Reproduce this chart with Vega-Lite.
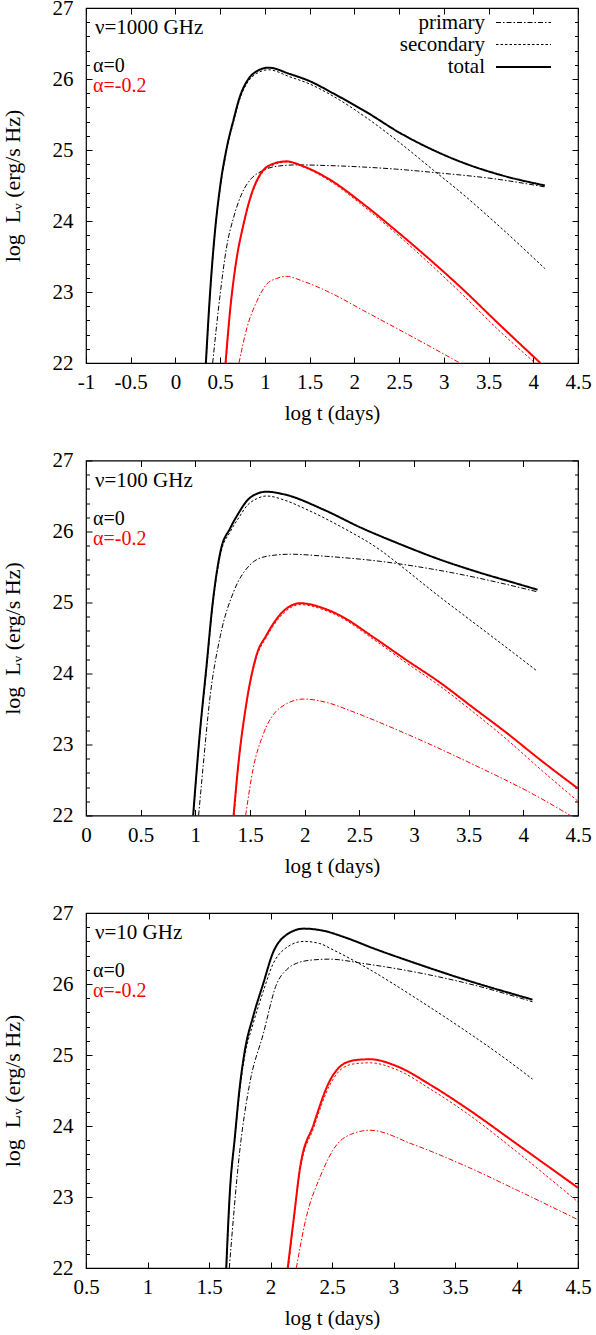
{
  "$schema": "https://vega.github.io/schema/vega-lite/v6.json",
  "background": "white",
  "padding": {"left": 0, "top": -4, "right": 0, "bottom": 0},
  "bounds": "flush",
  "spacing": 97.5,
  "config": {
    "font": "Liberation Serif",
    "view": {"stroke": "black", "strokeWidth": 1.2},
    "axis": {"domain": false, "grid": false, "labelFont": "Liberation Serif", "labelFontSize": 21, "labelColor": "black", "titleFont": "Liberation Serif", "titleFontSize": 21, "titleFontWeight": "normal", "titleColor": "black", "tickColor": "black", "tickWidth": 1, "labelFlush": false, "labelOverlap": false, "labelBound": false},
    "legend": {"labelFont": "Liberation Serif", "labelFontSize": 21, "labelColor": "black", "titleFont": "Liberation Serif", "titleFontSize": 21, "titleFontWeight": "normal", "titleColor": "black", "padding": 0}
  },
  "datasets": {
    "curves": [
      {"nu":"1000","alpha":"α=0","comp":"total","t":0.34,"L":22.0},
      {"nu":"1000","alpha":"α=0","comp":"total","t":0.386,"L":22.97},
      {"nu":"1000","alpha":"α=0","comp":"total","t":0.44,"L":23.83},
      {"nu":"1000","alpha":"α=0","comp":"total","t":0.5,"L":24.49},
      {"nu":"1000","alpha":"α=0","comp":"total","t":0.57,"L":25.01},
      {"nu":"1000","alpha":"α=0","comp":"total","t":0.65,"L":25.43},
      {"nu":"1000","alpha":"α=0","comp":"total","t":0.72,"L":25.75},
      {"nu":"1000","alpha":"α=0","comp":"total","t":0.81,"L":25.99},
      {"nu":"1000","alpha":"α=0","comp":"total","t":0.91,"L":26.11},
      {"nu":"1000","alpha":"α=0","comp":"total","t":1.04,"L":26.16},
      {"nu":"1000","alpha":"α=0","comp":"total","t":1.28,"L":26.07},
      {"nu":"1000","alpha":"α=0","comp":"total","t":1.5,"L":25.97},
      {"nu":"1000","alpha":"α=0","comp":"total","t":1.76,"L":25.8},
      {"nu":"1000","alpha":"α=0","comp":"total","t":2.14,"L":25.53},
      {"nu":"1000","alpha":"α=0","comp":"total","t":2.51,"L":25.24},
      {"nu":"1000","alpha":"α=0","comp":"total","t":2.88,"L":25.0},
      {"nu":"1000","alpha":"α=0","comp":"total","t":3.26,"L":24.8},
      {"nu":"1000","alpha":"α=0","comp":"total","t":3.63,"L":24.65},
      {"nu":"1000","alpha":"α=0","comp":"total","t":4.13,"L":24.5},
      {"nu":"1000","alpha":"α=0","comp":"secondary","t":0.342,"L":22.0},
      {"nu":"1000","alpha":"α=0","comp":"secondary","t":0.386,"L":22.95},
      {"nu":"1000","alpha":"α=0","comp":"secondary","t":0.44,"L":23.81},
      {"nu":"1000","alpha":"α=0","comp":"secondary","t":0.5,"L":24.46},
      {"nu":"1000","alpha":"α=0","comp":"secondary","t":0.57,"L":24.98},
      {"nu":"1000","alpha":"α=0","comp":"secondary","t":0.65,"L":25.4},
      {"nu":"1000","alpha":"α=0","comp":"secondary","t":0.72,"L":25.72},
      {"nu":"1000","alpha":"α=0","comp":"secondary","t":0.81,"L":25.96},
      {"nu":"1000","alpha":"α=0","comp":"secondary","t":0.91,"L":26.08},
      {"nu":"1000","alpha":"α=0","comp":"secondary","t":1.04,"L":26.13},
      {"nu":"1000","alpha":"α=0","comp":"secondary","t":1.28,"L":26.03},
      {"nu":"1000","alpha":"α=0","comp":"secondary","t":1.5,"L":25.93},
      {"nu":"1000","alpha":"α=0","comp":"secondary","t":1.76,"L":25.76},
      {"nu":"1000","alpha":"α=0","comp":"secondary","t":2.14,"L":25.45},
      {"nu":"1000","alpha":"α=0","comp":"secondary","t":2.51,"L":25.1},
      {"nu":"1000","alpha":"α=0","comp":"secondary","t":2.88,"L":24.72},
      {"nu":"1000","alpha":"α=0","comp":"secondary","t":3.22,"L":24.37},
      {"nu":"1000","alpha":"α=0","comp":"secondary","t":3.59,"L":23.96},
      {"nu":"1000","alpha":"α=0","comp":"secondary","t":4.13,"L":23.33},
      {"nu":"1000","alpha":"α=0","comp":"primary","t":0.416,"L":22.0},
      {"nu":"1000","alpha":"α=0","comp":"primary","t":0.5,"L":22.97},
      {"nu":"1000","alpha":"α=0","comp":"primary","t":0.57,"L":23.62},
      {"nu":"1000","alpha":"α=0","comp":"primary","t":0.65,"L":24.05},
      {"nu":"1000","alpha":"α=0","comp":"primary","t":0.74,"L":24.38},
      {"nu":"1000","alpha":"α=0","comp":"primary","t":0.85,"L":24.6},
      {"nu":"1000","alpha":"α=0","comp":"primary","t":0.96,"L":24.7},
      {"nu":"1000","alpha":"α=0","comp":"primary","t":1.13,"L":24.77},
      {"nu":"1000","alpha":"α=0","comp":"primary","t":1.36,"L":24.79},
      {"nu":"1000","alpha":"α=0","comp":"primary","t":1.73,"L":24.78},
      {"nu":"1000","alpha":"α=0","comp":"primary","t":2.47,"L":24.73},
      {"nu":"1000","alpha":"α=0","comp":"primary","t":2.92,"L":24.68},
      {"nu":"1000","alpha":"α=0","comp":"primary","t":3.59,"L":24.59},
      {"nu":"1000","alpha":"α=0","comp":"primary","t":4.13,"L":24.48},
      {"nu":"1000","alpha":"α=-0.2","comp":"total","t":0.56,"L":22.0},
      {"nu":"1000","alpha":"α=-0.2","comp":"total","t":0.61,"L":22.73},
      {"nu":"1000","alpha":"α=-0.2","comp":"total","t":0.68,"L":23.44},
      {"nu":"1000","alpha":"α=-0.2","comp":"total","t":0.76,"L":23.95},
      {"nu":"1000","alpha":"α=-0.2","comp":"total","t":0.85,"L":24.38},
      {"nu":"1000","alpha":"α=-0.2","comp":"total","t":0.96,"L":24.68},
      {"nu":"1000","alpha":"α=-0.2","comp":"total","t":1.08,"L":24.8},
      {"nu":"1000","alpha":"α=-0.2","comp":"total","t":1.24,"L":24.84},
      {"nu":"1000","alpha":"α=-0.2","comp":"total","t":1.43,"L":24.77},
      {"nu":"1000","alpha":"α=-0.2","comp":"total","t":1.73,"L":24.58},
      {"nu":"1000","alpha":"α=-0.2","comp":"total","t":2.1,"L":24.24},
      {"nu":"1000","alpha":"α=-0.2","comp":"total","t":2.47,"L":23.86},
      {"nu":"1000","alpha":"α=-0.2","comp":"total","t":2.85,"L":23.45},
      {"nu":"1000","alpha":"α=-0.2","comp":"total","t":3.22,"L":23.03},
      {"nu":"1000","alpha":"α=-0.2","comp":"total","t":3.59,"L":22.58},
      {"nu":"1000","alpha":"α=-0.2","comp":"total","t":4.08,"L":22.0},
      {"nu":"1000","alpha":"α=-0.2","comp":"secondary","t":0.565,"L":22.0},
      {"nu":"1000","alpha":"α=-0.2","comp":"secondary","t":0.61,"L":22.72},
      {"nu":"1000","alpha":"α=-0.2","comp":"secondary","t":0.68,"L":23.43},
      {"nu":"1000","alpha":"α=-0.2","comp":"secondary","t":0.76,"L":23.94},
      {"nu":"1000","alpha":"α=-0.2","comp":"secondary","t":0.85,"L":24.36},
      {"nu":"1000","alpha":"α=-0.2","comp":"secondary","t":0.96,"L":24.66},
      {"nu":"1000","alpha":"α=-0.2","comp":"secondary","t":1.08,"L":24.78},
      {"nu":"1000","alpha":"α=-0.2","comp":"secondary","t":1.24,"L":24.83},
      {"nu":"1000","alpha":"α=-0.2","comp":"secondary","t":1.43,"L":24.76},
      {"nu":"1000","alpha":"α=-0.2","comp":"secondary","t":1.73,"L":24.56},
      {"nu":"1000","alpha":"α=-0.2","comp":"secondary","t":2.1,"L":24.21},
      {"nu":"1000","alpha":"α=-0.2","comp":"secondary","t":2.47,"L":23.82},
      {"nu":"1000","alpha":"α=-0.2","comp":"secondary","t":2.85,"L":23.39},
      {"nu":"1000","alpha":"α=-0.2","comp":"secondary","t":3.22,"L":22.95},
      {"nu":"1000","alpha":"α=-0.2","comp":"secondary","t":3.59,"L":22.49},
      {"nu":"1000","alpha":"α=-0.2","comp":"secondary","t":4.02,"L":22.0},
      {"nu":"1000","alpha":"α=-0.2","comp":"primary","t":0.71,"L":22.0},
      {"nu":"1000","alpha":"α=-0.2","comp":"primary","t":0.8,"L":22.5},
      {"nu":"1000","alpha":"α=-0.2","comp":"primary","t":0.91,"L":22.87},
      {"nu":"1000","alpha":"α=-0.2","comp":"primary","t":1.02,"L":23.11},
      {"nu":"1000","alpha":"α=-0.2","comp":"primary","t":1.13,"L":23.19},
      {"nu":"1000","alpha":"α=-0.2","comp":"primary","t":1.24,"L":23.22},
      {"nu":"1000","alpha":"α=-0.2","comp":"primary","t":1.43,"L":23.15},
      {"nu":"1000","alpha":"α=-0.2","comp":"primary","t":1.73,"L":22.99},
      {"nu":"1000","alpha":"α=-0.2","comp":"primary","t":2.1,"L":22.74},
      {"nu":"1000","alpha":"α=-0.2","comp":"primary","t":2.47,"L":22.49},
      {"nu":"1000","alpha":"α=-0.2","comp":"primary","t":2.85,"L":22.23},
      {"nu":"1000","alpha":"α=-0.2","comp":"primary","t":3.18,"L":22.0},

      {"nu":"100","alpha":"α=0","comp":"total","t":0.98,"L":22.0},
      {"nu":"100","alpha":"α=0","comp":"total","t":1.04,"L":23.14},
      {"nu":"100","alpha":"α=0","comp":"total","t":1.1,"L":24.07},
      {"nu":"100","alpha":"α=0","comp":"total","t":1.16,"L":25.01},
      {"nu":"100","alpha":"α=0","comp":"total","t":1.23,"L":25.72},
      {"nu":"100","alpha":"α=0","comp":"total","t":1.32,"L":26.05},
      {"nu":"100","alpha":"α=0","comp":"total","t":1.4,"L":26.27},
      {"nu":"100","alpha":"α=0","comp":"total","t":1.47,"L":26.43},
      {"nu":"100","alpha":"α=0","comp":"total","t":1.56,"L":26.53},
      {"nu":"100","alpha":"α=0","comp":"total","t":1.65,"L":26.56},
      {"nu":"100","alpha":"α=0","comp":"total","t":1.82,"L":26.52},
      {"nu":"100","alpha":"α=0","comp":"total","t":2.17,"L":26.31},
      {"nu":"100","alpha":"α=0","comp":"total","t":2.52,"L":26.05},
      {"nu":"100","alpha":"α=0","comp":"total","t":2.86,"L":25.83},
      {"nu":"100","alpha":"α=0","comp":"total","t":3.21,"L":25.62},
      {"nu":"100","alpha":"α=0","comp":"total","t":3.56,"L":25.44},
      {"nu":"100","alpha":"α=0","comp":"total","t":3.91,"L":25.28},
      {"nu":"100","alpha":"α=0","comp":"total","t":4.13,"L":25.18},
      {"nu":"100","alpha":"α=0","comp":"secondary","t":0.982,"L":22.0},
      {"nu":"100","alpha":"α=0","comp":"secondary","t":1.04,"L":23.12},
      {"nu":"100","alpha":"α=0","comp":"secondary","t":1.1,"L":24.02},
      {"nu":"100","alpha":"α=0","comp":"secondary","t":1.16,"L":24.97},
      {"nu":"100","alpha":"α=0","comp":"secondary","t":1.23,"L":25.68},
      {"nu":"100","alpha":"α=0","comp":"secondary","t":1.32,"L":26.0},
      {"nu":"100","alpha":"α=0","comp":"secondary","t":1.4,"L":26.2},
      {"nu":"100","alpha":"α=0","comp":"secondary","t":1.47,"L":26.36},
      {"nu":"100","alpha":"α=0","comp":"secondary","t":1.56,"L":26.46},
      {"nu":"100","alpha":"α=0","comp":"secondary","t":1.65,"L":26.5},
      {"nu":"100","alpha":"α=0","comp":"secondary","t":1.82,"L":26.44},
      {"nu":"100","alpha":"α=0","comp":"secondary","t":1.99,"L":26.33},
      {"nu":"100","alpha":"α=0","comp":"secondary","t":2.34,"L":26.06},
      {"nu":"100","alpha":"α=0","comp":"secondary","t":2.69,"L":25.74},
      {"nu":"100","alpha":"α=0","comp":"secondary","t":2.86,"L":25.54},
      {"nu":"100","alpha":"α=0","comp":"secondary","t":3.21,"L":25.11},
      {"nu":"100","alpha":"α=0","comp":"secondary","t":3.56,"L":24.7},
      {"nu":"100","alpha":"α=0","comp":"secondary","t":3.91,"L":24.29},
      {"nu":"100","alpha":"α=0","comp":"secondary","t":4.13,"L":24.03},
      {"nu":"100","alpha":"α=0","comp":"primary","t":1.03,"L":22.0},
      {"nu":"100","alpha":"α=0","comp":"primary","t":1.07,"L":22.67},
      {"nu":"100","alpha":"α=0","comp":"primary","t":1.13,"L":23.61},
      {"nu":"100","alpha":"α=0","comp":"primary","t":1.23,"L":24.54},
      {"nu":"100","alpha":"α=0","comp":"primary","t":1.35,"L":25.15},
      {"nu":"100","alpha":"α=0","comp":"primary","t":1.5,"L":25.53},
      {"nu":"100","alpha":"α=0","comp":"primary","t":1.65,"L":25.65},
      {"nu":"100","alpha":"α=0","comp":"primary","t":1.87,"L":25.68},
      {"nu":"100","alpha":"α=0","comp":"primary","t":2.2,"L":25.65},
      {"nu":"100","alpha":"α=0","comp":"primary","t":2.69,"L":25.58},
      {"nu":"100","alpha":"α=0","comp":"primary","t":3.38,"L":25.41},
      {"nu":"100","alpha":"α=0","comp":"primary","t":4.13,"L":25.15},
      {"nu":"100","alpha":"α=-0.2","comp":"total","t":1.35,"L":22.0},
      {"nu":"100","alpha":"α=-0.2","comp":"total","t":1.39,"L":22.67},
      {"nu":"100","alpha":"α=-0.2","comp":"total","t":1.47,"L":23.61},
      {"nu":"100","alpha":"α=-0.2","comp":"total","t":1.56,"L":24.26},
      {"nu":"100","alpha":"α=-0.2","comp":"total","t":1.65,"L":24.54},
      {"nu":"100","alpha":"α=-0.2","comp":"total","t":1.8,"L":24.87},
      {"nu":"100","alpha":"α=-0.2","comp":"total","t":1.96,"L":24.99},
      {"nu":"100","alpha":"α=-0.2","comp":"total","t":2.17,"L":24.92},
      {"nu":"100","alpha":"α=-0.2","comp":"total","t":2.32,"L":24.82},
      {"nu":"100","alpha":"α=-0.2","comp":"total","t":2.63,"L":24.51},
      {"nu":"100","alpha":"α=-0.2","comp":"total","t":2.93,"L":24.19},
      {"nu":"100","alpha":"α=-0.2","comp":"total","t":3.24,"L":23.87},
      {"nu":"100","alpha":"α=-0.2","comp":"total","t":3.54,"L":23.52},
      {"nu":"100","alpha":"α=-0.2","comp":"total","t":3.85,"L":23.16},
      {"nu":"100","alpha":"α=-0.2","comp":"total","t":4.15,"L":22.79},
      {"nu":"100","alpha":"α=-0.2","comp":"total","t":4.5,"L":22.38},
      {"nu":"100","alpha":"α=-0.2","comp":"secondary","t":1.355,"L":22.0},
      {"nu":"100","alpha":"α=-0.2","comp":"secondary","t":1.39,"L":22.65},
      {"nu":"100","alpha":"α=-0.2","comp":"secondary","t":1.47,"L":23.59},
      {"nu":"100","alpha":"α=-0.2","comp":"secondary","t":1.56,"L":24.23},
      {"nu":"100","alpha":"α=-0.2","comp":"secondary","t":1.65,"L":24.51},
      {"nu":"100","alpha":"α=-0.2","comp":"secondary","t":1.8,"L":24.84},
      {"nu":"100","alpha":"α=-0.2","comp":"secondary","t":1.96,"L":24.97},
      {"nu":"100","alpha":"α=-0.2","comp":"secondary","t":2.17,"L":24.9},
      {"nu":"100","alpha":"α=-0.2","comp":"secondary","t":2.32,"L":24.8},
      {"nu":"100","alpha":"α=-0.2","comp":"secondary","t":2.63,"L":24.48},
      {"nu":"100","alpha":"α=-0.2","comp":"secondary","t":2.93,"L":24.15},
      {"nu":"100","alpha":"α=-0.2","comp":"secondary","t":3.24,"L":23.82},
      {"nu":"100","alpha":"α=-0.2","comp":"secondary","t":3.54,"L":23.46},
      {"nu":"100","alpha":"α=-0.2","comp":"secondary","t":3.85,"L":23.07},
      {"nu":"100","alpha":"α=-0.2","comp":"secondary","t":4.15,"L":22.66},
      {"nu":"100","alpha":"α=-0.2","comp":"secondary","t":4.5,"L":22.2},
      {"nu":"100","alpha":"α=-0.2","comp":"primary","t":1.46,"L":22.0},
      {"nu":"100","alpha":"α=-0.2","comp":"primary","t":1.53,"L":22.67},
      {"nu":"100","alpha":"α=-0.2","comp":"primary","t":1.62,"L":23.14},
      {"nu":"100","alpha":"α=-0.2","comp":"primary","t":1.77,"L":23.51},
      {"nu":"100","alpha":"α=-0.2","comp":"primary","t":1.99,"L":23.64},
      {"nu":"100","alpha":"α=-0.2","comp":"primary","t":2.23,"L":23.58},
      {"nu":"100","alpha":"α=-0.2","comp":"primary","t":2.41,"L":23.48},
      {"nu":"100","alpha":"α=-0.2","comp":"primary","t":2.93,"L":23.15},
      {"nu":"100","alpha":"α=-0.2","comp":"primary","t":3.54,"L":22.72},
      {"nu":"100","alpha":"α=-0.2","comp":"primary","t":4.15,"L":22.25},
      {"nu":"100","alpha":"α=-0.2","comp":"primary","t":4.43,"L":22.0},

      {"nu":"10","alpha":"α=0","comp":"total","t":1.64,"L":22.0},
      {"nu":"10","alpha":"α=0","comp":"total","t":1.67,"L":23.08},
      {"nu":"10","alpha":"α=0","comp":"total","t":1.71,"L":23.84},
      {"nu":"10","alpha":"α=0","comp":"total","t":1.75,"L":24.55},
      {"nu":"10","alpha":"α=0","comp":"total","t":1.79,"L":25.05},
      {"nu":"10","alpha":"α=0","comp":"total","t":1.86,"L":25.55},
      {"nu":"10","alpha":"α=0","comp":"total","t":1.94,"L":26.0},
      {"nu":"10","alpha":"α=0","comp":"total","t":2.02,"L":26.44},
      {"nu":"10","alpha":"α=0","comp":"total","t":2.12,"L":26.68},
      {"nu":"10","alpha":"α=0","comp":"total","t":2.27,"L":26.78},
      {"nu":"10","alpha":"α=0","comp":"total","t":2.43,"L":26.75},
      {"nu":"10","alpha":"α=0","comp":"total","t":2.6,"L":26.66},
      {"nu":"10","alpha":"α=0","comp":"total","t":2.84,"L":26.5},
      {"nu":"10","alpha":"α=0","comp":"total","t":3.2,"L":26.28},
      {"nu":"10","alpha":"α=0","comp":"total","t":3.62,"L":26.04},
      {"nu":"10","alpha":"α=0","comp":"total","t":3.97,"L":25.86},
      {"nu":"10","alpha":"α=0","comp":"total","t":4.13,"L":25.78},
      {"nu":"10","alpha":"α=0","comp":"secondary","t":1.642,"L":22.0},
      {"nu":"10","alpha":"α=0","comp":"secondary","t":1.67,"L":23.06},
      {"nu":"10","alpha":"α=0","comp":"secondary","t":1.71,"L":23.81},
      {"nu":"10","alpha":"α=0","comp":"secondary","t":1.75,"L":24.5},
      {"nu":"10","alpha":"α=0","comp":"secondary","t":1.79,"L":24.98},
      {"nu":"10","alpha":"α=0","comp":"secondary","t":1.86,"L":25.45},
      {"nu":"10","alpha":"α=0","comp":"secondary","t":1.94,"L":25.89},
      {"nu":"10","alpha":"α=0","comp":"secondary","t":2.02,"L":26.28},
      {"nu":"10","alpha":"α=0","comp":"secondary","t":2.12,"L":26.5},
      {"nu":"10","alpha":"α=0","comp":"secondary","t":2.27,"L":26.6},
      {"nu":"10","alpha":"α=0","comp":"secondary","t":2.4,"L":26.57},
      {"nu":"10","alpha":"α=0","comp":"secondary","t":2.51,"L":26.48},
      {"nu":"10","alpha":"α=0","comp":"secondary","t":2.75,"L":26.26},
      {"nu":"10","alpha":"α=0","comp":"secondary","t":3.2,"L":25.78},
      {"nu":"10","alpha":"α=0","comp":"secondary","t":3.62,"L":25.3},
      {"nu":"10","alpha":"α=0","comp":"secondary","t":3.9,"L":24.96},
      {"nu":"10","alpha":"α=0","comp":"secondary","t":4.13,"L":24.66},
      {"nu":"10","alpha":"α=0","comp":"primary","t":1.665,"L":22.0},
      {"nu":"10","alpha":"α=0","comp":"primary","t":1.75,"L":23.65},
      {"nu":"10","alpha":"α=0","comp":"primary","t":1.83,"L":24.59},
      {"nu":"10","alpha":"α=0","comp":"primary","t":1.94,"L":25.29},
      {"nu":"10","alpha":"α=0","comp":"primary","t":2.05,"L":26.0},
      {"nu":"10","alpha":"α=0","comp":"primary","t":2.13,"L":26.2},
      {"nu":"10","alpha":"α=0","comp":"primary","t":2.21,"L":26.29},
      {"nu":"10","alpha":"α=0","comp":"primary","t":2.35,"L":26.34},
      {"nu":"10","alpha":"α=0","comp":"primary","t":2.48,"L":26.35},
      {"nu":"10","alpha":"α=0","comp":"primary","t":2.75,"L":26.29},
      {"nu":"10","alpha":"α=0","comp":"primary","t":3.2,"L":26.16},
      {"nu":"10","alpha":"α=0","comp":"primary","t":3.62,"L":26.0},
      {"nu":"10","alpha":"α=0","comp":"primary","t":4.13,"L":25.75},
      {"nu":"10","alpha":"α=-0.2","comp":"total","t":2.14,"L":22.0},
      {"nu":"10","alpha":"α=-0.2","comp":"total","t":2.19,"L":22.71},
      {"nu":"10","alpha":"α=-0.2","comp":"total","t":2.24,"L":23.41},
      {"nu":"10","alpha":"α=-0.2","comp":"total","t":2.35,"L":24.02},
      {"nu":"10","alpha":"α=-0.2","comp":"total","t":2.48,"L":24.63},
      {"nu":"10","alpha":"α=-0.2","comp":"total","t":2.59,"L":24.87},
      {"nu":"10","alpha":"α=-0.2","comp":"total","t":2.7,"L":24.93},
      {"nu":"10","alpha":"α=-0.2","comp":"total","t":2.81,"L":24.94},
      {"nu":"10","alpha":"α=-0.2","comp":"total","t":3.03,"L":24.84},
      {"nu":"10","alpha":"α=-0.2","comp":"total","t":3.3,"L":24.58},
      {"nu":"10","alpha":"α=-0.2","comp":"total","t":3.62,"L":24.22},
      {"nu":"10","alpha":"α=-0.2","comp":"total","t":4.0,"L":23.75},
      {"nu":"10","alpha":"α=-0.2","comp":"total","t":4.5,"L":23.13},
      {"nu":"10","alpha":"α=-0.2","comp":"secondary","t":2.145,"L":22.0},
      {"nu":"10","alpha":"α=-0.2","comp":"secondary","t":2.19,"L":22.68},
      {"nu":"10","alpha":"α=-0.2","comp":"secondary","t":2.24,"L":23.37},
      {"nu":"10","alpha":"α=-0.2","comp":"secondary","t":2.35,"L":23.97},
      {"nu":"10","alpha":"α=-0.2","comp":"secondary","t":2.48,"L":24.57},
      {"nu":"10","alpha":"α=-0.2","comp":"secondary","t":2.59,"L":24.82},
      {"nu":"10","alpha":"α=-0.2","comp":"secondary","t":2.7,"L":24.88},
      {"nu":"10","alpha":"α=-0.2","comp":"secondary","t":2.81,"L":24.89},
      {"nu":"10","alpha":"α=-0.2","comp":"secondary","t":3.03,"L":24.79},
      {"nu":"10","alpha":"α=-0.2","comp":"secondary","t":3.3,"L":24.52},
      {"nu":"10","alpha":"α=-0.2","comp":"secondary","t":3.62,"L":24.15},
      {"nu":"10","alpha":"α=-0.2","comp":"secondary","t":4.0,"L":23.64},
      {"nu":"10","alpha":"α=-0.2","comp":"secondary","t":4.5,"L":22.93},
      {"nu":"10","alpha":"α=-0.2","comp":"primary","t":2.21,"L":22.0},
      {"nu":"10","alpha":"α=-0.2","comp":"primary","t":2.29,"L":22.71},
      {"nu":"10","alpha":"α=-0.2","comp":"primary","t":2.4,"L":23.27},
      {"nu":"10","alpha":"α=-0.2","comp":"primary","t":2.54,"L":23.74},
      {"nu":"10","alpha":"α=-0.2","comp":"primary","t":2.65,"L":23.88},
      {"nu":"10","alpha":"α=-0.2","comp":"primary","t":2.81,"L":23.94},
      {"nu":"10","alpha":"α=-0.2","comp":"primary","t":3.16,"L":23.74},
      {"nu":"10","alpha":"α=-0.2","comp":"primary","t":3.62,"L":23.41},
      {"nu":"10","alpha":"α=-0.2","comp":"primary","t":4.0,"L":23.1},
      {"nu":"10","alpha":"α=-0.2","comp":"primary","t":4.5,"L":22.68}
    ]
  },
  "data": {"name": "curves"},
  "resolve": {
    "scale": {"x": "independent", "y": "independent"},
    "legend": {"color": "independent", "strokeDash": "independent", "strokeWidth": "independent"}
  },
  "vconcat": [
    {
      "width": 492, "height": 355,
      "transform": [{"filter": "datum.nu == '1000'"}],
      "layer": [
        {
          "mark": {"type": "line", "clip": true, "interpolate": "monotone", "strokeCap": "butt"},
          "encoding": {
            "x": {"field": "t", "type": "quantitative", "scale": {"domain": [-1, 4.5], "nice": false, "zero": false},
              "axis": {"values": [-1,-0.5,0,0.5,1,1.5,2,2.5,3,3.5,4,4.5], "labelExpr": "'' + datum.value", "tickSize": -6, "labelPadding": 14.5, "title": "log t (days)", "titlePadding": 10}},
            "y": {"field": "L", "type": "quantitative", "scale": {"domain": [22, 27], "nice": false, "zero": false},
              "axis": {"values": [22,22.2,22.4,22.6,22.8,23,23.2,23.4,23.6,23.8,24,24.2,24.4,24.6,24.8,25,25.2,25.4,25.6,25.8,26,26.2,26.4,26.6,26.8,27], "labelExpr": "datum.value % 1 == 0 ? '' + datum.value : ''", "tickSize": {"condition": {"test": "datum.value % 1 == 0", "value": -6}, "value": -3.5}, "labelPadding": 19, "title": "log\u00a0\u00a0Lᵥ (erg/s Hz)", "titleFontSize": 22, "titlePadding": 28}},
            "color": {"field": "alpha", "type": "nominal", "scale": {"domain": ["α=0", "α=-0.2"], "range": ["#000000", "#ff0000"]},
              "legend": {"orient": "none", "legendX": 9, "legendY": 9, "title": "ν=1000 GHz", "titlePadding": 18, "symbolOpacity": 0, "symbolSize": 1, "labelOffset": -22, "labelFontSize": 20, "rowPadding": -4, "labelColor": {"expr": "datum.label == 'α=0' ? '#000000' : '#ff0000'"}}},
            "strokeDash": {"field": "comp", "type": "nominal", "scale": {"domain": ["primary", "secondary", "total"], "range": [[5,2,1.5,2],[2.5,2],[1,0]]},
              "legend": {"orient": "none", "legendX": 425.5, "legendY": 3, "title": null, "symbolType": "M-2.5,0H2.5", "symbolSize": 484, "symbolStrokeColor": "black", "labelAlign": "right", "labelOffset": -50.5, "rowPadding": 0}},
            "strokeWidth": {"field": "comp", "type": "nominal", "scale": {"type": "ordinal", "domain": ["primary", "secondary", "total"], "range": [1, 1, 2]},
              "legend": {"orient": "none", "legendX": 425.5, "legendY": 3, "title": null, "symbolType": "M-2.5,0H2.5", "symbolSize": 484, "symbolStrokeColor": "black", "labelAlign": "right", "labelOffset": -50.5, "rowPadding": 0}}
          }
        },
        {
          "mark": {"type": "point", "opacity": 0},
          "encoding": {
            "x": {"field": "t", "type": "quantitative", "axis": {"orient": "top", "values": [-1,-0.5,0,0.5,1,1.5,2,2.5,3,3.5,4,4.5], "labels": false, "tickSize": -6, "title": null}},
            "y": {"field": "L", "type": "quantitative", "axis": {"orient": "right", "values": [22,22.2,22.4,22.6,22.8,23,23.2,23.4,23.6,23.8,24,24.2,24.4,24.6,24.8,25,25.2,25.4,25.6,25.8,26,26.2,26.4,26.6,26.8,27], "labels": false, "tickSize": {"condition": {"test": "datum.value % 1 == 0", "value": -6}, "value": -3.5}, "title": null}}
          }
        }
      ],
      "resolve": {"axis": {"x": "independent", "y": "independent"}}
    },
    {
      "width": 492, "height": 355,
      "transform": [{"filter": "datum.nu == '100'"}],
      "layer": [
        {
          "mark": {"type": "line", "clip": true, "interpolate": "monotone", "strokeCap": "butt"},
          "encoding": {
            "x": {"field": "t", "type": "quantitative", "scale": {"domain": [0, 4.5], "nice": false, "zero": false},
              "axis": {"values": [0,0.5,1,1.5,2,2.5,3,3.5,4,4.5], "labelExpr": "'' + datum.value", "tickSize": -6, "labelPadding": 14.5, "title": "log t (days)", "titlePadding": 10}},
            "y": {"field": "L", "type": "quantitative", "scale": {"domain": [22, 27], "nice": false, "zero": false},
              "axis": {"values": [22,22.2,22.4,22.6,22.8,23,23.2,23.4,23.6,23.8,24,24.2,24.4,24.6,24.8,25,25.2,25.4,25.6,25.8,26,26.2,26.4,26.6,26.8,27], "labelExpr": "datum.value % 1 == 0 ? '' + datum.value : ''", "tickSize": {"condition": {"test": "datum.value % 1 == 0", "value": -6}, "value": -3.5}, "labelPadding": 19, "title": "log\u00a0\u00a0Lᵥ (erg/s Hz)", "titleFontSize": 22, "titlePadding": 28}},
            "color": {"field": "alpha", "type": "nominal", "scale": {"domain": ["α=0", "α=-0.2"], "range": ["#000000", "#ff0000"]},
              "legend": {"orient": "none", "legendX": 9, "legendY": 9, "title": "ν=100 GHz", "titlePadding": 18, "symbolOpacity": 0, "symbolSize": 1, "labelOffset": -22, "labelFontSize": 20, "rowPadding": -4, "labelColor": {"expr": "datum.label == 'α=0' ? '#000000' : '#ff0000'"}}},
            "strokeDash": {"field": "comp", "type": "nominal", "scale": {"domain": ["primary", "secondary", "total"], "range": [[5,2,1.5,2],[2.5,2],[1,0]]}, "legend": null},
            "strokeWidth": {"field": "comp", "type": "nominal", "scale": {"type": "ordinal", "domain": ["primary", "secondary", "total"], "range": [1, 1, 2]}, "legend": null}
          }
        },
        {
          "mark": {"type": "point", "opacity": 0},
          "encoding": {
            "x": {"field": "t", "type": "quantitative", "axis": {"orient": "top", "values": [0,0.5,1,1.5,2,2.5,3,3.5,4,4.5], "labels": false, "tickSize": -6, "title": null}},
            "y": {"field": "L", "type": "quantitative", "axis": {"orient": "right", "values": [22,22.2,22.4,22.6,22.8,23,23.2,23.4,23.6,23.8,24,24.2,24.4,24.6,24.8,25,25.2,25.4,25.6,25.8,26,26.2,26.4,26.6,26.8,27], "labels": false, "tickSize": {"condition": {"test": "datum.value % 1 == 0", "value": -6}, "value": -3.5}, "title": null}}
          }
        }
      ],
      "resolve": {"axis": {"x": "independent", "y": "independent"}}
    },
    {
      "width": 492, "height": 355,
      "transform": [{"filter": "datum.nu == '10'"}],
      "layer": [
        {
          "mark": {"type": "line", "clip": true, "interpolate": "monotone", "strokeCap": "butt"},
          "encoding": {
            "x": {"field": "t", "type": "quantitative", "scale": {"domain": [0.5, 4.5], "nice": false, "zero": false},
              "axis": {"values": [0.5,1,1.5,2,2.5,3,3.5,4,4.5], "labelExpr": "'' + datum.value", "tickSize": -6, "labelPadding": 14.5, "title": "log t (days)", "titlePadding": 10}},
            "y": {"field": "L", "type": "quantitative", "scale": {"domain": [22, 27], "nice": false, "zero": false},
              "axis": {"values": [22,22.2,22.4,22.6,22.8,23,23.2,23.4,23.6,23.8,24,24.2,24.4,24.6,24.8,25,25.2,25.4,25.6,25.8,26,26.2,26.4,26.6,26.8,27], "labelExpr": "datum.value % 1 == 0 ? '' + datum.value : ''", "tickSize": {"condition": {"test": "datum.value % 1 == 0", "value": -6}, "value": -3.5}, "labelPadding": 19, "title": "log\u00a0\u00a0Lᵥ (erg/s Hz)", "titleFontSize": 22, "titlePadding": 28}},
            "color": {"field": "alpha", "type": "nominal", "scale": {"domain": ["α=0", "α=-0.2"], "range": ["#000000", "#ff0000"]},
              "legend": {"orient": "none", "legendX": 9, "legendY": 9, "title": "ν=10 GHz", "titlePadding": 18, "symbolOpacity": 0, "symbolSize": 1, "labelOffset": -22, "labelFontSize": 20, "rowPadding": -4, "labelColor": {"expr": "datum.label == 'α=0' ? '#000000' : '#ff0000'"}}},
            "strokeDash": {"field": "comp", "type": "nominal", "scale": {"domain": ["primary", "secondary", "total"], "range": [[5,2,1.5,2],[2.5,2],[1,0]]}, "legend": null},
            "strokeWidth": {"field": "comp", "type": "nominal", "scale": {"type": "ordinal", "domain": ["primary", "secondary", "total"], "range": [1, 1, 2]}, "legend": null}
          }
        },
        {
          "mark": {"type": "point", "opacity": 0},
          "encoding": {
            "x": {"field": "t", "type": "quantitative", "axis": {"orient": "top", "values": [0.5,1,1.5,2,2.5,3,3.5,4,4.5], "labels": false, "tickSize": -6, "title": null}},
            "y": {"field": "L", "type": "quantitative", "axis": {"orient": "right", "values": [22,22.2,22.4,22.6,22.8,23,23.2,23.4,23.6,23.8,24,24.2,24.4,24.6,24.8,25,25.2,25.4,25.6,25.8,26,26.2,26.4,26.6,26.8,27], "labels": false, "tickSize": {"condition": {"test": "datum.value % 1 == 0", "value": -6}, "value": -3.5}, "title": null}}
          }
        }
      ],
      "resolve": {"axis": {"x": "independent", "y": "independent"}}
    }
  ]
}
